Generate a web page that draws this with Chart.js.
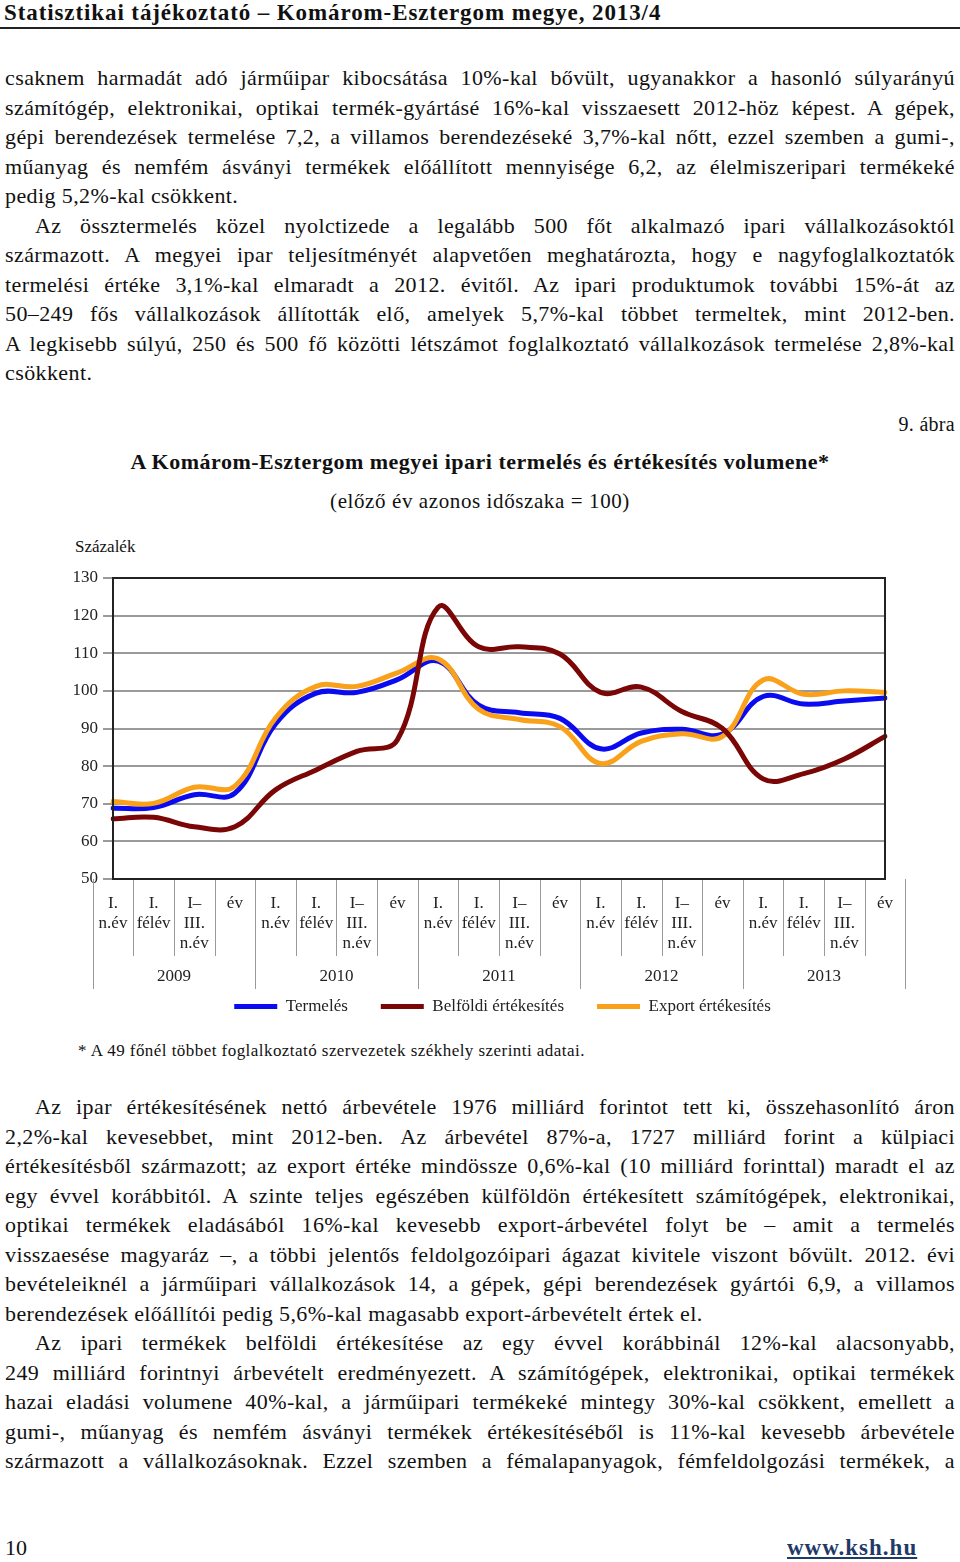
<!DOCTYPE html>
<html lang="hu">
<head>
<meta charset="utf-8">
<title>A Komárom-Esztergom megyei ipari termelés és értékesítés volumene</title>
<script src="https://cdn.jsdelivr.net/npm/chart.js@4.4.1/dist/chart.umd.min.js"></script>
<style>
  html, body { margin: 0; padding: 0; background: #fff; }
  body {
    width: 960px; height: 1562px; position: relative; overflow: hidden;
    font-family: "Liberation Serif", "DejaVu Serif", serif; color: #111;
  }
  .abs { position: absolute; white-space: nowrap; }
  .header { left: 4px; top: 0; font-weight: bold; font-size: 23px; letter-spacing: 0.9px; line-height: 26px; }
  .rule { position: absolute; left: 0; top: 27px; width: 960px; height: 2px; background: #222; }
  .para { position: absolute; left: 5px; width: 950px; font-size: 22px; letter-spacing: 0.4px; line-height: 29.5px; }
  .para div { white-space: nowrap; text-align: justify; text-align-last: justify; }
  .para div.last { text-align: left; text-align-last: left; }
  .para div.ind { text-indent: 30px; }
  #chartBox { position: absolute; left: 0; top: 530px; width: 960px; height: 495px; }
  .footer-link { font-weight: bold; color: #1f3a68; text-decoration: underline; }
</style>
</head>
<body>
<div class="abs header">Statisztikai tájékoztató – Komárom-Esztergom megye, 2013/4</div>
<div class="rule"></div>

<div class="para" style="top:63px">
  <div>csaknem harmadát adó járműipar kibocsátása 10%-kal bővült, ugyanakkor a hasonló súlyarányú</div>
  <div>számítógép, elektronikai, optikai termék-gyártásé 16%-kal visszaesett 2012-höz képest. A gépek,</div>
  <div>gépi berendezések termelése 7,2, a villamos berendezéseké 3,7%-kal nőtt, ezzel szemben a gumi-,</div>
  <div>műanyag és nemfém ásványi termékek előállított mennyisége 6,2, az élelmiszeripari termékeké</div>
  <div class="last">pedig 5,2%-kal csökkent.</div>
  <div class="ind">Az össztermelés közel nyolctizede a legalább 500 főt alkalmazó ipari vállalkozásoktól</div>
  <div>származott. A megyei ipar teljesítményét alapvetően meghatározta, hogy e nagyfoglalkoztatók</div>
  <div>termelési értéke 3,1%-kal elmaradt a 2012. évitől. Az ipari produktumok további 15%-át az</div>
  <div>50–249 fős vállalkozások állították elő, amelyek 5,7%-kal többet termeltek, mint 2012-ben.</div>
  <div>A legkisebb súlyú, 250 és 500 fő közötti létszámot foglalkoztató vállalkozások termelése 2,8%-kal</div>
  <div class="last">csökkent.</div>
</div>

<div class="abs" style="right:5px; top:412px; font-size:20px; line-height:24px; letter-spacing:0.3px;">9. ábra</div>
<div class="abs" style="left:0; width:960px; text-align:center; top:449px; font-size:22px; letter-spacing:0.5px; line-height:26px; font-weight:bold;">A Komárom-Esztergom megyei ipari termelés és értékesítés volumene*</div>
<div class="abs" style="left:0; width:960px; text-align:center; top:489px; font-size:21px; letter-spacing:0.6px; line-height:24px;">(előző év azonos időszaka = 100)</div>
<div class="abs" style="left:75px; top:536px; font-size:17px; line-height:22px;">Százalék</div>

<div id="chartBox"><canvas id="volChart" width="960" height="495"></canvas></div>

<div class="abs" style="left:78px; top:1040px; font-size:17px; letter-spacing:0.45px; line-height:22px;">* A 49 főnél többet foglalkoztató szervezetek székhely szerinti adatai.</div>

<div class="para" style="top:1092px">
  <div class="ind">Az ipar értékesítésének nettó árbevétele 1976 milliárd forintot tett ki, összehasonlító áron</div>
  <div>2,2%-kal kevesebbet, mint 2012-ben. Az árbevétel 87%-a, 1727 milliárd forint a külpiaci</div>
  <div>értékesítésből származott; az export értéke mindössze 0,6%-kal (10 milliárd forinttal) maradt el az</div>
  <div>egy évvel korábbitól. A szinte teljes egészében külföldön értékesített számítógépek, elektronikai,</div>
  <div>optikai termékek eladásából 16%-kal kevesebb export-árbevétel folyt be – amit a termelés</div>
  <div>visszaesése magyaráz –, a többi jelentős feldolgozóipari ágazat kivitele viszont bővült. 2012. évi</div>
  <div>bevételeiknél a járműipari vállalkozások 14, a gépek, gépi berendezések gyártói 6,9, a villamos</div>
  <div class="last">berendezések előállítói pedig 5,6%-kal magasabb export-árbevételt értek el.</div>
  <div class="ind">Az ipari termékek belföldi értékesítése az egy évvel korábbinál 12%-kal alacsonyabb,</div>
  <div>249 milliárd forintnyi árbevételt eredményezett. A számítógépek, elektronikai, optikai termékek</div>
  <div>hazai eladási volumene 40%-kal, a járműipari termékeké mintegy 30%-kal csökkent, emellett a</div>
  <div>gumi-, műanyag és nemfém ásványi termékek értékesítéséből is 11%-kal kevesebb árbevétele</div>
  <div>származott a vállalkozásoknak. Ezzel szemben a fémalapanyagok, fémfeldolgozási termékek, a</div>
</div>

<div class="abs" style="left:5px; top:1535px; font-size:22px; line-height:26px;">10</div>
<div class="abs footer-link" style="left:787px; top:1535px; font-size:23px; letter-spacing:1px; line-height:26px;">www.ksh.hu</div>

<script>
// periods within each year, repeated for every year
const periods = [["I.", "n.év"], ["I.", "félév"], ["I–", "III.", "n.év"], ["év"]];
const years = ["2009", "2010", "2011", "2012", "2013"];
const categories = years.flatMap(() => periods);

// previous year's same period = 100
const termeles = [68.8, 69.0, 72.4, 72.8, 91.2, 99.4, 99.6, 103.0, 107.9, 96.2, 94.2, 92.7, 84.6, 88.8, 89.8, 88.5, 98.5, 96.5, 97.3, 98.1];
const belfoldi = [66.0, 66.4, 63.9, 63.9, 73.7, 79.0, 83.9, 87.0, 122.2, 111.7, 111.7, 109.8, 99.6, 101.0, 94.5, 90.0, 76.6, 78.0, 81.9, 87.9];
const exportErt = [70.6, 70.1, 74.4, 74.7, 92.8, 101.2, 101.2, 104.8, 108.5, 95.1, 92.4, 90.5, 80.7, 86.6, 88.6, 87.9, 102.9, 99.1, 100.0, 99.6];

const yTicks = [50, 60, 70, 80, 90, 100, 110, 120, 130];

const LEGEND_SHIFT = 30;
const FONT = '"Liberation Serif", "DejaVu Serif", serif';

// separator lines and year labels below the category axis, plus the plot frame
const periodLines = {
  id: "periodLines",
  afterLayout(chart) {
    chart.legend.left += LEGEND_SHIFT;
    chart.legend.right += LEGEND_SHIFT;
  },
  afterDraw(chart) {
    const { ctx, chartArea, scales: { x } } = chart;
    const step = x.getPixelForValue(1) - x.getPixelForValue(0);
    ctx.save();
    ctx.strokeStyle = "#9a9a9a";
    ctx.lineWidth = 1;
    for (let i = 0; i <= categories.length; i++) {
      const px = Math.round(x.getPixelForValue(i) - step / 2) + 0.5;
      const len = i % periods.length === 0 ? 110 : 77;
      ctx.beginPath();
      ctx.moveTo(px, chartArea.bottom);
      ctx.lineTo(px, chartArea.bottom + len);
      ctx.stroke();
    }
    ctx.fillStyle = "#222";
    ctx.font = "17px " + FONT;
    ctx.textAlign = "center";
    ctx.textBaseline = "middle";
    years.forEach((yr, k) => {
      const a = x.getPixelForValue(k * periods.length);
      const b = x.getPixelForValue(k * periods.length + periods.length - 1);
      ctx.fillText(yr, (a + b) / 2, chartArea.bottom + 98);
    });
    ctx.strokeStyle = "#222";
    ctx.lineWidth = 2;
    ctx.strokeRect(chartArea.left, chartArea.top, chartArea.right - chartArea.left, chartArea.bottom - chartArea.top);
    ctx.restore();
  }
};

const ctx = document.getElementById("volChart").getContext("2d");

new Chart(ctx, {
  type: "line",
  data: {
    labels: categories,
    datasets: [
      { label: "Termelés", data: termeles, borderColor: "#0b0bf0", backgroundColor: "#0b0bf0", order: 2 },
      { label: "Belföldi értékesítés", data: belfoldi, borderColor: "#7b0606", backgroundColor: "#7b0606", order: 0 },
      { label: "Export értékesítés", data: exportErt, borderColor: "#f9a11b", backgroundColor: "#f9a11b", order: 1 }
    ]
  },
  options: {
    responsive: false,
    devicePixelRatio: 1,
    animation: false,
    datasets: {
      line: { borderWidth: 5, tension: 0.4, pointRadius: 0, borderCapStyle: "round", fill: false }
    },
    layout: { padding: { left: 60, right: 75, top: 48, bottom: 0 } },
    scales: {
      x: {
        grid: { display: false },
        border: { display: false },
        ticks: {
          autoSkip: false, maxRotation: 0, minRotation: 0, padding: 6,
          color: "#222", font: { family: FONT, size: 17, lineHeight: 1.2 }
        },
        afterFit: (scale) => { scale.height = 86; }
      },
      y: {
        min: 50, max: 130,
        afterBuildTicks: (scale) => { scale.ticks = yTicks.map((v) => ({ value: v })); },
        grid: { color: "#9a9a9a", lineWidth: 2, tickLength: 10, tickColor: "#9a9a9a" },
        border: { display: false },
        ticks: { padding: 5, color: "#222", font: { family: FONT, size: 17 } },
        afterFit: (scale) => { scale.width = 53; }
      }
    },
    plugins: {
      tooltip: { enabled: false },
      legend: {
        position: "bottom",
        labels: {
          usePointStyle: true, pointStyle: "line", pointStyleWidth: 43, boxHeight: 5,
          padding: 33, color: "#222", font: { family: FONT, size: 17 },
          sort: (a, b) => a.datasetIndex - b.datasetIndex
        }
      }
    }
  },
  plugins: [periodLines]
});
</script>
</body>
</html>
